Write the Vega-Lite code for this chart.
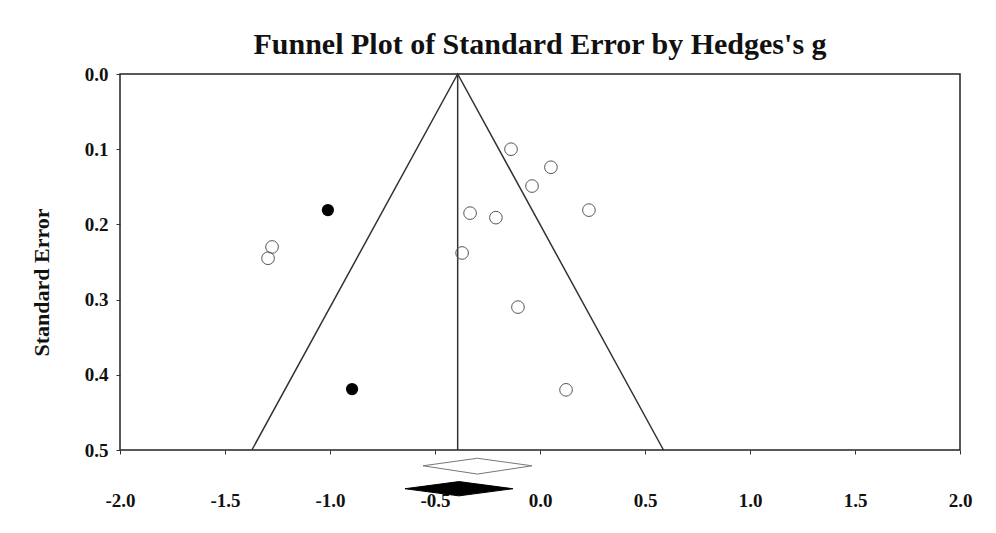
{
  "$schema": "https://vega.github.io/schema/vega-lite/v6.json",
  "width": 840,
  "height": 376,
  "autosize": "none",
  "padding": {"left": 120, "top": 74, "right": 36, "bottom": 83},
  "background": "white",
  "title": {
    "text": "Funnel Plot of Standard Error by Hedges's g",
    "font": "Liberation Serif",
    "fontSize": 30,
    "fontWeight": "bold",
    "color": "#111111",
    "anchor": "middle",
    "offset": 5
  },
  "config": {
    "view": {"stroke": "#222222", "strokeWidth": 1.5},
    "axis": {
      "domain": false,
      "grid": false,
      "ticks": true,
      "tickColor": "#333333",
      "tickSize": 4,
      "labelFlush": false,
      "labelFont": "Liberation Serif",
      "labelFontWeight": "bold",
      "labelFontSize": 19,
      "labelColor": "#111111",
      "titleFont": "Liberation Serif",
      "titleFontWeight": "bold",
      "titleFontSize": 22,
      "titleColor": "#111111"
    }
  },
  "datasets": {
    "studies": [
      {"g": -0.138, "se": 0.100, "type": "observed"},
      {"g": 0.052, "se": 0.124, "type": "observed"},
      {"g": -0.038, "se": 0.149, "type": "observed"},
      {"g": 0.233, "se": 0.181, "type": "observed"},
      {"g": -0.333, "se": 0.185, "type": "observed"},
      {"g": -0.210, "se": 0.191, "type": "observed"},
      {"g": -0.371, "se": 0.238, "type": "observed"},
      {"g": -1.276, "se": 0.230, "type": "observed"},
      {"g": -1.295, "se": 0.245, "type": "observed"},
      {"g": -0.105, "se": 0.310, "type": "observed"},
      {"g": 0.124, "se": 0.420, "type": "observed"},
      {"g": -1.010, "se": 0.181, "type": "imputed"},
      {"g": -0.895, "se": 0.419, "type": "imputed"}
    ],
    "funnel": [
      {"g": -1.372, "se": 0.5},
      {"g": -0.392, "se": 0.0},
      {"g": 0.588, "se": 0.5}
    ],
    "summary": [
      {"g": -0.392}
    ],
    "diamonds": [
      {"type": "observed", "g": -0.557, "top": 0.521, "bottom": 0.521},
      {"type": "observed", "g": -0.298, "top": 0.511, "bottom": 0.532},
      {"type": "observed", "g": -0.038, "top": 0.521, "bottom": 0.521},
      {"type": "adjusted", "g": -0.643, "top": 0.5515, "bottom": 0.5515},
      {"type": "adjusted", "g": -0.386, "top": 0.542, "bottom": 0.561},
      {"type": "adjusted", "g": -0.129, "top": 0.5515, "bottom": 0.5515}
    ]
  },
  "layer": [
    {
      "data": {"name": "funnel"},
      "mark": {"type": "line", "color": "#333333", "strokeWidth": 1.5},
      "encoding": {
        "x": {
          "field": "g", "type": "quantitative",
          "scale": {"domain": [-2, 2], "nice": false, "zero": false},
          "axis": {
            "title": null,
            "values": [-2, -1.5, -1, -0.5, 0, 0.5, 1, 1.5, 2],
            "labelExpr": "replace(format(datum.value, '.1f'), '\u2212', '-')",
            "labelFontSize": 19,
            "labelFlush": false,
            "labelPadding": 37
          }
        },
        "y": {
          "field": "se", "type": "quantitative",
          "scale": {"domain": [0, 0.5], "reverse": true, "nice": false},
          "axis": {
            "title": "Standard Error",
            "values": [0, 0.1, 0.2, 0.3, 0.4, 0.5],
            "format": ".1f",
            "labelFontSize": 19,
            "labelFlush": false,
            "labelPadding": 8,
            "titleFontSize": 22,
            "titleX": -67,
            "titleY": 208,
            "titleAngle": -90,
            "titleAlign": "center",
            "titleBaseline": "bottom"
          }
        }
      }
    },
    {
      "data": {"name": "summary"},
      "mark": {"type": "rule", "color": "#333333", "strokeWidth": 1.5},
      "encoding": {"x": {"field": "g", "type": "quantitative"}}
    },
    {
      "data": {"name": "diamonds"},
      "transform": [{"filter": "datum.type === 'observed'"}],
      "mark": {"type": "area", "fill": "white", "stroke": "#777777", "strokeWidth": 1},
      "encoding": {
        "x": {"field": "g", "type": "quantitative"},
        "y": {"field": "top", "type": "quantitative"},
        "y2": {"field": "bottom"}
      }
    },
    {
      "data": {"name": "diamonds"},
      "transform": [{"filter": "datum.type === 'adjusted'"}],
      "mark": {"type": "area", "fill": "black", "stroke": "black", "strokeWidth": 1},
      "encoding": {
        "x": {"field": "g", "type": "quantitative"},
        "y": {"field": "top", "type": "quantitative"},
        "y2": {"field": "bottom"}
      }
    },
    {
      "data": {"name": "studies"},
      "transform": [{"filter": "datum.type === 'observed'"}],
      "mark": {"type": "point", "shape": "circle", "filled": false, "stroke": "#555555", "strokeWidth": 1, "size": 160, "opacity": 1},
      "encoding": {
        "x": {"field": "g", "type": "quantitative"},
        "y": {"field": "se", "type": "quantitative"}
      }
    },
    {
      "data": {"name": "studies"},
      "transform": [{"filter": "datum.type === 'imputed'"}],
      "mark": {"type": "point", "shape": "circle", "filled": true, "color": "black", "size": 150, "opacity": 1},
      "encoding": {
        "x": {"field": "g", "type": "quantitative"},
        "y": {"field": "se", "type": "quantitative"}
      }
    }
  ]
}
